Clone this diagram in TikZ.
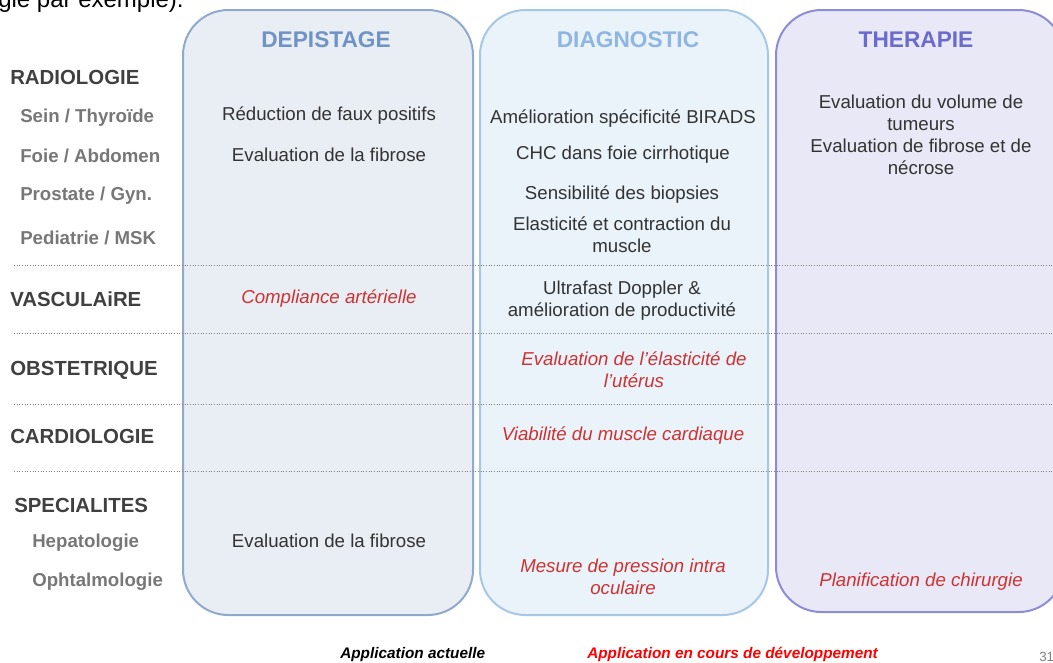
\documentclass[tikz,border=0pt]{standalone}
\usepackage{fontspec}
\setmainfont{Liberation Sans}
\usepackage{xcolor}
\usetikzlibrary{positioning,calc}

\definecolor{depfill}{HTML}{E9EDF4}
\definecolor{depline}{HTML}{8FAACC}
\definecolor{deptitle}{HTML}{6F93C4}
\definecolor{diafill}{HTML}{EAF2FA}
\definecolor{dialine}{HTML}{A7C7E7}
\definecolor{diatitle}{HTML}{8EB6E3}
\definecolor{thefill}{HTML}{E8E8F6}
\definecolor{theline}{HTML}{8C8CD8}
\definecolor{thetitle}{HTML}{6B6BCF}
\definecolor{devred}{HTML}{CC3333}
\definecolor{headgrey}{HTML}{404040}
\definecolor{subgrey}{HTML}{777777}
\definecolor{bodygrey}{HTML}{333333}

\begin{document}
\begin{tikzpicture}[
        x=0.75pt, y=-0.75pt,
        colbox/.style={line width=1.5pt, rounded corners=34pt},
        coltitle/.style={font=\fontsize{17}{20}\selectfont\bfseries, inner sep=0pt},
        head/.style={anchor=west, inner sep=0pt, text=headgrey, font=\fontsize{15.3}{18}\selectfont\bfseries},
        sub/.style={anchor=west, inner sep=0pt, text=subgrey, font=\fontsize{14}{17}\selectfont\bfseries},
        app/.style={align=center, inner sep=0pt, text=bodygrey, font=\fontsize{14}{16.5}\selectfont},
        dev/.style={app, text=devred, font=\fontsize{14}{16.5}\selectfont\itshape},
        sep/.style={gray, line width=0.6pt, dash pattern=on 0.7pt off 1.3pt},
        legend/.style={anchor=base west, inner sep=0pt, font=\fontsize{11.5}{14}\selectfont\bfseries\itshape}
      ]
        \useasboundingbox (0,0) rectangle (1053,662);

        % cut-off line of the page above
        \node[anchor=base west, inner sep=0pt, font=\fontsize{18}{20}\selectfont] (cut) at (-2,7) {gie par exemple).};

        % columns
        \draw[colbox, fill=depfill, draw=depline] (183,10) rectangle (473,615);
        \draw[colbox, fill=diafill, draw=dialine] (480,10) rectangle (768,615);
        \draw[colbox, fill=thefill, draw=theline] (776,10) rectangle (1064,612);

        \node[coltitle, text=deptitle] (depistage) at (326,40) {DEPISTAGE};
        \node[coltitle, text=diatitle] (diagnostic) at (628,40) {DIAGNOSTIC};
        \node[coltitle, text=thetitle] (therapie) at (916,40) {THERAPIE};

        % separators
        \foreach \y in {265,333,404,471}
          \draw[sep] (14,\y) -- (1053,\y);

        % rows
        \node[head] (radio) at (10,77) {RADIOLOGIE};
        \node[sub] (sein) at (20,118) {Sein / Thyroïde};
        \node[sub] (foie) at (20,156) {Foie / Abdomen};
        \node[sub] (prostate) at (20,196) {Prostate / Gyn.};
        \node[sub] (pedia) at (20,238) {Pediatrie / MSK};
        \node[head] (vasc) at (10,299) {VASCULAiRE};
        \node[head] (obst) at (10,370) {OBSTETRIQUE};
        \node[head] (cardio) at (10,436) {CARDIOLOGIE};
        \node[head] (spec) at (14,505) {SPECIALITES};
        \node[sub] (hepato) at (32,543) {Hepatologie};
        \node[sub] (ophta) at (32,582) {Ophtalmologie};

        % depistage
        \node[app] (dep1) at (329,116) {Réduction de faux positifs};
        \node[app] (dep2) at (329,155) {Evaluation de la fibrose};
        \node[dev] (dep3) at (329,299) {Compliance artérielle};
        \node[app] (dep4) at (329,541) {Evaluation de la fibrose};

        % diagnostic
        \node[app] (dia1) at (623,119) {Amélioration spécificité BIRADS};
        \node[app] (dia2) at (623,155) {CHC dans foie cirrhotique};
        \node[app] (dia3) at (622,195) {Sensibilité des biopsies};
        \node[app] (dia4) at (622,235) {Elasticité et contraction du\\muscle};
        \node[app] (dia5) at (622,301) {Ultrafast Doppler \&\\amélioration de productivité};
        \node[dev] (dia6) at (634,370) {Evaluation de l’élasticité de\\l’utérus};
        \node[dev] (dia7) at (623,436) {Viabilité du muscle cardiaque};
        \node[dev] (dia8) at (623,577) {Mesure de pression intra\\oculaire};

        % therapie
        \node[app] (the1) at (921,113) {Evaluation du volume de\\tumeurs};
        \node[app] (the2) at (921,157) {Evaluation de fibrose et de\\nécrose};
        \node[dev] (the3) at (921,582) {Planification de chirurgie};

        % legend
        \node[legend] (actuelle) at (340,658) {Application actuelle};
        \node[legend, text=red] (encours) at (587,658) {Application en cours de développement};
        \node[anchor=base west, inner sep=0pt, text=gray, font=\fontsize{10}{12}\selectfont] (page) at (1039,661) {31};

      \end{tikzpicture}
\end{document}
